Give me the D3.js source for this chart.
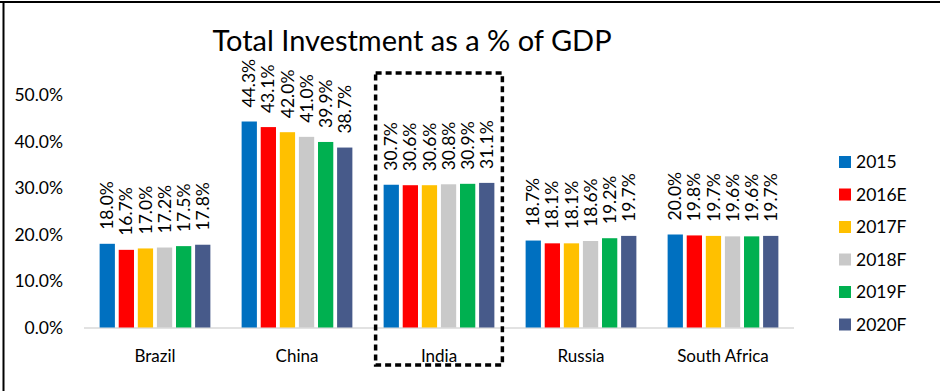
<!DOCTYPE html>
<html><head><meta charset="utf-8">
<script src="https://cdn.jsdelivr.net/npm/d3@7"></script>
<style>body{margin:0;background:#fff}svg{display:block}text{font-family:Lato,"Open Sans",sans-serif;fill:#000}</style>
</head><body><svg id="c" width="940" height="391"></svg>
<script>
const categories = ["Brazil","China","India","Russia","South Africa"];
const seriesNames = ["2015","2016E","2017F","2018F","2019F","2020F"];
const colors = ["#0070C0","#FF0000","#FFC000","#C9C9C9","#00B050","#475A8A"];
const s2015  = [18.0, 44.3, 30.7, 18.7, 20.0];
const s2016E = [16.7, 43.1, 30.6, 18.1, 19.8];
const s2017F = [17.0, 42.0, 30.6, 18.1, 19.7];
const s2018F = [17.2, 41.0, 30.8, 18.6, 19.6];
const s2019F = [17.5, 39.9, 30.9, 19.2, 19.6];
const s2020F = [17.8, 38.7, 31.1, 19.7, 19.7];
const yTicks = [0, 10, 20, 30, 40, 50];
const title = "Total Investment as a % of GDP";
const highlight = "India";

const series = [s2015, s2016E, s2017F, s2018F, s2019F, s2020F];
const svg = d3.select("#c");

// frame (top + left edges)
svg.append("line").attr("x1",0).attr("x2",940).attr("y1",2).attr("y2",2).attr("stroke","#000").attr("stroke-width",2);
svg.append("line").attr("x1",3.5).attr("x2",3.5).attr("y1",1).attr("y2",391).attr("stroke","#000").attr("stroke-width",2);

const y = d3.scaleLinear().domain([0,50]).range([327.5, 95]);
const x0 = d3.scaleBand().domain(categories).range([84,794]).paddingInner(0.22).paddingOuter(0.11);
const x1 = d3.scaleBand().domain(seriesNames).range([0, x0.bandwidth()]).paddingInner(0.2).paddingOuter(0);

svg.append("text").attr("x",412).attr("y",51).attr("text-anchor","middle")
  .style("font-size","29px").text(title);

// y labels
svg.append("g").selectAll("text").data(yTicks).join("text")
  .attr("x",63).attr("y",d=>y(d)).attr("dy","0.35em").attr("text-anchor","end")
  .style("font-size","17.5px").text(d=>d3.format(".1f")(d)+"%");

// baseline
svg.append("line").attr("x1",84).attr("x2",794).attr("y1",y(0)+0.5).attr("y2",y(0)+0.5)
  .attr("stroke","#D9D9D9").attr("stroke-width",1.5);

const g = svg.append("g");
categories.forEach((cat, ci) => {
  const gg = g.append("g").attr("transform",`translate(${x0(cat)},0)`);
  seriesNames.forEach((sn, si) => {
    const v = series[si][ci];
    gg.append("rect").attr("x",x1(sn)).attr("y",y(v)).attr("width",x1.bandwidth())
      .attr("height",y(0)-y(v)).attr("fill",colors[si]);
    const cx = x1(sn)+x1.bandwidth()/2;
    gg.append("text").attr("transform",`translate(${cx},${y(v)-14}) rotate(-90)`)
      .attr("dy","0.35em").attr("text-anchor","start")
      .style("font-size","17.5px").text(v.toFixed(1)+"%");
  });
  svg.append("text").attr("x",x0(cat)+x0.bandwidth()/2).attr("y",362).attr("text-anchor","middle")
    .style("font-size","17px").text(cat);
});

// highlight box
const hx = x0(highlight);
svg.append("rect").attr("x",hx-8).attr("y",73).attr("width",x0.bandwidth()+16).attr("height",292)
  .attr("fill","none").attr("stroke","#000").attr("stroke-width",3.5).attr("stroke-dasharray","6,4");

// legend
const lg = svg.append("g");
seriesNames.forEach((sn, i) => {
  const ly = 162 + i*32.5;
  lg.append("rect").attr("x",839).attr("y",ly-6).attr("width",12).attr("height",12).attr("fill",colors[i]);
  lg.append("text").attr("x",856).attr("y",ly).attr("dy","0.35em").style("font-size","17.5px").text(sn);
});
</script></body></html>
